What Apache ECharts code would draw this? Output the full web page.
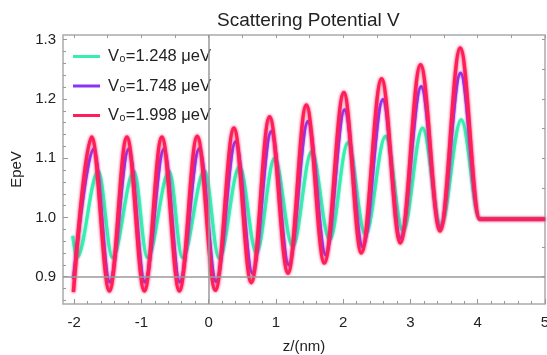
<!DOCTYPE html>
<html>
<head>
<meta charset="utf-8">
<script src="https://cdn.jsdelivr.net/npm/echarts@6/dist/echarts.min.js"></script>
<style>
  html, body { margin: 0; padding: 0; background: #fff; }
  #main { width: 547px; height: 355px; }
</style>
</head>
<body>
<div id="main"></div>
<script>
// extrema (z in nm, V in eV)
const greenZ = [-2.02, -1.96, -1.64, -1.43, -1.11, -0.91, -0.585, -0.39, -0.06, 0.155, 0.46, 0.71, 0.98, 1.25, 1.53, 1.80, 2.07, 2.33, 2.63, 2.89, 3.18, 3.45, 3.755, 4.03, 5.0]
const greenV = [0.969, 0.932, 1.078, 0.932, 1.078, 0.932, 1.078, 0.932, 1.079, 0.931, 1.086, 0.940, 1.100, 0.951, 1.111, 0.962, 1.126, 0.971, 1.137, 0.977, 1.151, 0.986, 1.165, 0.998, 0.998]

const purpleZ = [-2.01, -1.71, -1.47, -1.19, -0.95, -0.665, -0.43, -0.14, 0.11, 0.40, 0.65, 0.93, 1.19, 1.475, 1.74, 2.02, 2.29, 2.59, 2.85, 3.16, 3.44, 3.745, 4.03, 5.0]
const purpleV = [0.896, 1.115, 0.891, 1.115, 0.891, 1.115, 0.891, 1.116, 0.892, 1.128, 0.906, 1.145, 0.920, 1.162, 0.937, 1.182, 0.950, 1.199, 0.965, 1.221, 0.982, 1.244, 0.997, 0.997]

const redZ = [-2.01, -1.74, -1.475, -1.215, -0.955, -0.695, -0.435, -0.17, 0.10, 0.376, 0.634, 0.906, 1.18, 1.452, 1.72, 2.01, 2.27, 2.571, 2.85, 3.15, 3.44, 3.74, 4.03, 5.0]
const redV = [0.874, 1.136, 0.876, 1.136, 0.876, 1.136, 0.876, 1.137, 0.877, 1.151, 0.890, 1.170, 0.906, 1.190, 0.923, 1.211, 0.940, 1.234, 0.957, 1.258, 0.977, 1.286, 0.997, 0.997]

const seriesNames = ['V\u2080=1.248 \u03bceV', 'V\u2080=1.748 \u03bceV', 'V\u2080=1.998 \u03bceV']
const seriesColors = ['#35eeb0', '#8c32f5', '#ff1f58']

const xLabels = [-2, -1, 0, 1, 2, 3, 4, 5]
const yLabels = [0.9, 1.0, 1.1, 1.2, 1.3]

const X_MIN = -2.165, X_MAX = 5.0
const Y_MIN = 0.854, Y_MAX = 1.308
const FONT = "'Liberation Sans', Arial, sans-serif"

// tick positions for the frame
function steps (from, to, step) {
  let out = []
  for (let v = from; v <= to + 1e-9; v += step) out.push(+v.toFixed(3))
  return out
}

function frameAxis (pos, min, max, ticks, len, extra) {
  return Object.assign({
    type: 'value', position: pos, min: min, max: max,
    axisLine: { show: false, onZero: false },
    axisTick: { show: true, inside: true, length: len, customValues: ticks,
      lineStyle: { color: '#999', width: 1 } },
    axisLabel: { show: false },
    splitLine: { show: false }
  }, extra || {})
}

function curve (name, zs, vs, color, width, blur) {
  return {
    name: name, type: 'line',
    data: zs.map((z, i) => [z, vs[i]]),
    smooth: 0.36, smoothMonotone: 'x',
    symbol: 'none', z: 3,
    lineStyle: { color: color, width: width, shadowColor: color, shadowBlur: blur },
    itemStyle: { color: color }
  }
}

let myChart = echarts.init(document.getElementById('main'))

let option = {
  animation: false,
  textStyle: { fontFamily: FONT },
  title: {
    text: 'Scattering Potential V',
    left: 212, top: 6,
    textStyle: { fontSize: 19, fontWeight: 'normal', color: '#222', fontFamily: FONT }
  },
  grid: {
    left: 63, right: 2, top: 35, bottom: 51,
    outerBoundsMode: 'none',
    show: true, borderColor: '#aaa', borderWidth: 1.5
  },
  legend: {
    data: seriesNames.map((n, i) => ({ name: n, itemStyle: { color: seriesColors[i] } })),
    orient: 'vertical',
    icon: 'rect',
    left: 67, top: 38,
    itemWidth: 27, itemHeight: 3, itemGap: 12.5,
    padding: [10, 16, 8, 6],
    backgroundColor: '#fff',
    textStyle: { fontSize: 16.5, color: '#222', fontFamily: FONT, padding: [0, 0, 0, 3] }
  },
  xAxis: [
    frameAxis('bottom', X_MIN, X_MAX, xLabels, 5, {
      name: 'z/(nm)', nameLocation: 'middle', nameGap: 35,
      nameTextStyle: { fontSize: 15, color: '#222', fontFamily: FONT },
      axisLabel: { show: true, customValues: xLabels, margin: 11, fontSize: 15, color: '#222', fontFamily: FONT }
    }),
    frameAxis('bottom', X_MIN, X_MAX, steps(-2, 5, 0.2), 3),
    frameAxis('top', X_MIN, X_MAX, steps(-2, 5, 0.5), 3)
  ],
  yAxis: [
    frameAxis('left', Y_MIN, Y_MAX, yLabels, 5, {
      name: 'EpeV', nameLocation: 'middle', nameGap: 34,
      nameTextStyle: { fontSize: 15, color: '#222', fontFamily: FONT },
      axisLabel: { show: true, customValues: yLabels, margin: 7, fontSize: 15, color: '#222', fontFamily: FONT,
        formatter: v => v.toFixed(1) }
    }),
    frameAxis('left', Y_MIN, Y_MAX, steps(0.86, 1.3, 0.02), 3),
    frameAxis('right', Y_MIN, Y_MAX, steps(0.9, 1.3, 0.05), 3)
  ],
  series: [
    {
      type: 'line', data: [], z: 1, silent: true,
      markLine: {
        silent: true, symbol: 'none', label: { show: false },
        lineStyle: { color: '#9a9a9a', width: 1.5, type: 'solid' },
        data: [{ yAxis: 0.9 }, { xAxis: 0 }]
      }
    },
    curve(seriesNames[0], greenZ, greenV, seriesColors[0], 3, 2),
    curve(seriesNames[1], purpleZ, purpleV, seriesColors[1], 3, 2),
    curve(seriesNames[2], redZ, redV, seriesColors[2], 3.5, 3)
  ]
}

myChart.setOption(option)
</script>
</body>
</html>
